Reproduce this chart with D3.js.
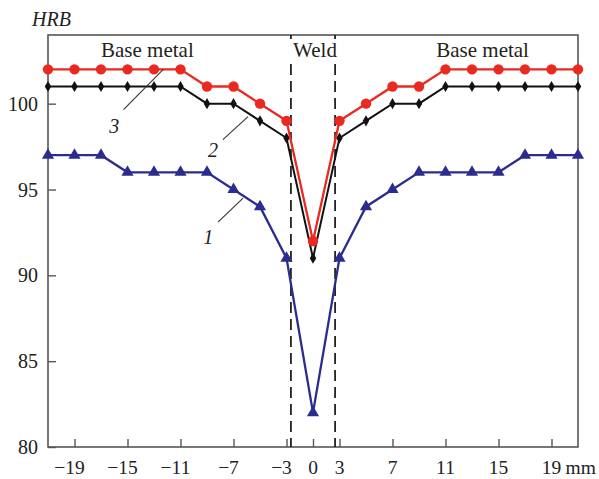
<!DOCTYPE html>
<html lang="en">
<head>
<meta charset="UTF-8">
<title>HRB hardness profile</title>
<script src="https://d3js.org/d3.v7.min.js"></script>
<style>
  body { margin: 0; background: #fff; }
  text { font-family: "Liberation Serif", "Times New Roman", serif; fill: #222; }
</style>
</head>
<body>
<div id="chart"></div>
<script>
// distance from weld centre, mm
var positions = [-21, -19, -17, -15, -13, -11, -9, -7, -5, -3, 0, 3, 5, 7, 9, 11, 13, 15, 17, 19, 21];
// curve 1 (blue triangles)
var curve1 = [97, 97, 97, 96, 96, 96, 96, 95, 94, 91, 82, 91, 94, 95, 96, 96, 96, 96, 97, 97, 97];
// curve 2 (black diamonds)
var curve2 = [101, 101, 101, 101, 101, 101, 100, 100, 99, 98, 91, 98, 99, 100, 100, 101, 101, 101, 101, 101, 101];
// curve 3 (red circles)
var curve3 = [102, 102, 102, 102, 102, 102, 101, 101, 100, 99, 92, 99, 100, 101, 101, 102, 102, 102, 102, 102, 102];
var xTicks = [-19, -15, -11, -7, -3, 0, 3, 7, 11, 15, 19];
var yTicks = [80, 85, 90, 95, 100];
var weldEdges = [-2.5, 2.5];

(function() {
var width = 599, height = 479;
var mLeft = 48, mRight = 578, mTop = 35, mBottom = 447;

var svg = d3.select("#chart").append("svg")
    .attr("width", width)
    .attr("height", height);

// the weld zone is drawn compressed: every measured point is one step apart
var step = (mRight - mLeft) / 20;
var x = d3.scaleLinear()
    .domain([-21, -3, 3, 21])
    .range([mLeft, mLeft + 9 * step, mLeft + 11 * step, mRight]);
var y = d3.scaleLinear().domain([80, 104]).range([mBottom, mTop]);

// frame
svg.append("rect")
    .attr("x", mLeft).attr("y", mTop)
    .attr("width", mRight - mLeft).attr("height", mBottom - mTop)
    .attr("fill", "none").attr("stroke", "#555").attr("stroke-width", 1.6);

// y axis, ticks inward
svg.append("g")
    .attr("transform", "translate(" + mLeft + ",0)")
    .call(d3.axisRight(y).tickValues(yTicks).tickSize(8).tickFormat(""))
    .call(function(g) {
        g.select(".domain").remove();
        g.selectAll("line").attr("stroke", "#555").attr("stroke-width", 1.4);
    });
svg.selectAll(".ylab").data(yTicks).enter().append("text")
    .attr("x", mLeft - 10)
    .attr("y", function(d) { return y(d) + 7; })
    .attr("text-anchor", "end")
    .style("font-size", "20px")
    .text(function(d) { return d; });

// x axis, ticks inward
svg.append("g")
    .attr("transform", "translate(0," + mBottom + ")")
    .call(d3.axisTop(x).tickValues(xTicks).tickSize(8).tickFormat(""))
    .call(function(g) {
        g.select(".domain").remove();
        g.selectAll("line").attr("stroke", "#555").attr("stroke-width", 1.4);
    });
svg.selectAll(".xlab").data(xTicks).enter().append("text")
    .attr("x", function(d) { return x(d) + (d < 0 ? -5 : 0); })
    .attr("y", mBottom + 27)
    .attr("text-anchor", "middle")
    .style("font-size", "19.5px")
    .text(function(d) { return d < 0 ? "\u2212" + Math.abs(d) : d; });
svg.append("text")
    .attr("x", x(19) + 14)
    .attr("y", mBottom + 27)
    .style("font-size", "19.5px")
    .text("mm");

// axis title
svg.append("text")
    .attr("x", 32).attr("y", 26)
    .style("font-size", "20px").style("font-style", "italic")
    .text("HRB");

// weld boundaries: short stub at the top, gap for the label, then dashes
svg.selectAll(".weldStub").data(weldEdges).enter().append("line")
    .attr("x1", function(d) { return x(d); })
    .attr("x2", function(d) { return x(d); })
    .attr("y1", mTop).attr("y2", mTop + 4)
    .attr("stroke", "#222").attr("stroke-width", 1.8);
svg.selectAll(".weld").data(weldEdges).enter().append("line")
    .attr("x1", function(d) { return x(d); })
    .attr("x2", function(d) { return x(d); })
    .attr("y1", mTop + 29).attr("y2", mBottom)
    .attr("stroke", "#222").attr("stroke-width", 1.8)
    .attr("stroke-dasharray", "11,6");

// zone labels
svg.append("text").attr("x", x(-13.5)).attr("y", mTop + 22)
    .attr("text-anchor", "middle").style("font-size", "21px").text("Base metal");
svg.append("text").attr("x", x(0) + 2).attr("y", mTop + 22)
    .attr("text-anchor", "middle").style("font-size", "21px").text("Weld");
svg.append("text").attr("x", x(13.8)).attr("y", mTop + 22)
    .attr("text-anchor", "middle").style("font-size", "21px").text("Base metal");

var series = [
    { values: curve1, color: "#2b2d8e", symbol: d3.symbolTriangle, size: 64, width: 2.3 },
    { values: curve2, color: "#111111", symbol: d3.symbolDiamond, size: 36, width: 2.0 },
    { values: curve3, color: "#ea2a20", symbol: d3.symbolCircle, size: 85, width: 2.3 }
];

var line = d3.line()
    .x(function(d, i) { return x(positions[i]); })
    .y(function(d) { return y(d); });

series.forEach(function(s) {
    svg.append("path")
        .attr("d", line(s.values))
        .attr("fill", "none")
        .attr("stroke", s.color)
        .attr("stroke-width", s.width);
    svg.append("g").selectAll("path").data(s.values).enter().append("path")
        .attr("d", d3.symbol().type(s.symbol).size(s.size))
        .attr("transform", function(d, i) {
            return "translate(" + x(positions[i]) + "," + y(d) + ")";
        })
        .attr("fill", s.color);
});

// curve numbers with leader lines (data coordinates)
var leaders = [
    { label: "3", at: [-16.0, 98.3], from: [-15.3, 99.65], to: [-12.3, 102.0] },
    { label: "2", at: [-8.55, 96.9], from: [-7.8, 97.9], to: [-5.9, 99.25] },
    { label: "1", at: [-8.9, 91.85], from: [-8.17, 93.1], to: [-6.28, 94.5] }
];
leaders.forEach(function(l) {
    svg.append("line")
        .attr("x1", x(l.from[0])).attr("y1", y(l.from[1]))
        .attr("x2", x(l.to[0])).attr("y2", y(l.to[1]))
        .attr("stroke", "#333").attr("stroke-width", 1.1);
    svg.append("text")
        .attr("x", x(l.at[0])).attr("y", y(l.at[1]))
        .attr("text-anchor", "middle")
        .style("font-size", "20px").style("font-style", "italic")
        .text(l.label);
});
})();
</script>
</body>
</html>
